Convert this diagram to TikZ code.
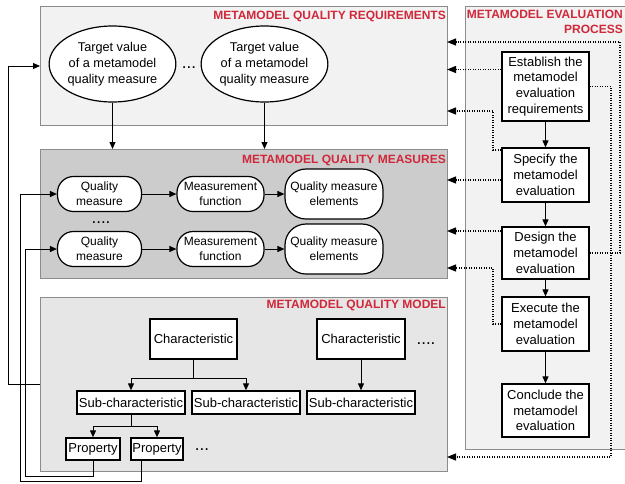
\documentclass[tikz,border=0pt]{standalone}
\usepackage{fontspec}
\setmainfont{Liberation Sans}
\usetikzlibrary{arrows.meta,shapes.geometric}

\definecolor{titlered}{RGB}{208,40,58}
\definecolor{panelline}{RGB}{140,140,140}
\definecolor{reqfill}{RGB}{242,242,242}
\definecolor{measfill}{RGB}{204,204,204}
\definecolor{modfill}{RGB}{230,230,230}
\definecolor{procfill}{RGB}{242,242,242}

\tikzset{
  panel/.style={draw=panelline, line width=0.9pt, anchor=north west, inner sep=0pt, outer sep=0pt},
  ptitle/.style={font=\bfseries\fontsize{12}{14}\selectfont, text=titlered, inner sep=0pt, align=right},
  target/.style={ellipse, draw, line width=1.2pt, fill=white, minimum width=117pt, minimum height=76pt,
    inner sep=0pt, align=center, font=\fontsize{12.7}{16}\selectfont},
  pill/.style={draw, line width=1.2pt, fill=white, rounded corners=16pt, minimum height=35pt,
    inner sep=0pt, align=center, font=\fontsize{12}{15}\selectfont},
  elem/.style={draw, line width=1.2pt, fill=white, rounded corners=21pt, minimum width=98pt,
    minimum height=50pt, inner sep=0pt, align=center, font=\fontsize{12}{15}\selectfont},
  qbox/.style={draw, line width=1.3pt, fill=white, inner sep=0pt, align=center,
    font=\fontsize{13}{15.8}\selectfont},
  procbox/.style={qbox, minimum width=87pt},
  dots/.style={font=\fontsize{17}{17}\selectfont, inner sep=0pt, anchor=base,
    text height=2.5pt, text depth=0pt},
  arr/.style={line width=1pt, -{Triangle[length=7pt,width=6pt]}},
  link/.style={line width=1pt},
  dotarr/.style={line width=1.2pt, dash pattern=on 1.2pt off 1.3pt,
    -{Triangle[length=9pt,width=7pt]}},
}

\begin{document}
\begin{tikzpicture}[x=1pt, y=-1pt]
\useasboundingbox (0,0) rectangle (625,483);

% ---- panels ----
\node[panel, fill=reqfill, minimum width=407pt, minimum height=119pt] (req) at (40,6) {};
\node[panel, fill=measfill, minimum width=407pt, minimum height=129pt] (meas) at (40,149) {};
\node[panel, fill=modfill, minimum width=407pt, minimum height=174pt] (mod) at (40,297) {};
\node[panel, fill=procfill, minimum width=170pt, minimum height=443pt] (proc) at (465,6) {};

\node[ptitle, anchor=east] (treq) at (446,16) {METAMODEL QUALITY REQUIREMENTS};
\node[ptitle, anchor=east] (tmeas) at (446,160) {METAMODEL QUALITY MEASURES};
\node[ptitle, anchor=east] (tmod) at (446,305.5) {METAMODEL QUALITY MODEL};
\node[ptitle, anchor=north east, font=\bfseries\fontsize{12}{15}\selectfont] (tproc) at (623,10)
  {METAMODEL EVALUATION\\PROCESS};

% ---- quality requirements ----
\node[target] (el1) at (112.5,64) {Target value\\of a metamodel\\quality measure};
\node[target] (el2) at (264.5,64) {Target value\\of a metamodel\\quality measure};
\node[dots] (d1) at (189,68) {...};

% ---- quality measures ----
\node[pill, minimum width=84pt] (qm1) at (99.5,194) {Quality\\measure};
\node[pill, minimum width=87pt] (mf1) at (220.5,194) {Measurement\\function};
\node[elem] (qe1) at (334,194) {Quality measure\\elements};
\node[pill, minimum width=84pt] (qm2) at (99.5,249) {Quality\\measure};
\node[pill, minimum width=87pt] (mf2) at (220.5,249) {Measurement\\function};
\node[elem] (qe2) at (334,249) {Quality measure\\elements};
\node[dots] (d2) at (101,223) {....};

\draw[arr] (qm1) -- (mf1);
\draw[arr] (mf1) -- (qe1);
\draw[arr] (qm2) -- (mf2);
\draw[arr] (mf2) -- (qe2);

\draw[arr] (el1.south) -- (el1.south |- meas.north);
\draw[arr] (el2.south) -- (el2.south |- meas.north);

% ---- quality model ----
\node[qbox, minimum width=87pt, minimum height=40pt] (ch1) at (193.5,339) {Characteristic};
\node[qbox, minimum width=88pt, minimum height=40pt] (ch2) at (361,339) {Characteristic};
\node[dots] (d3) at (426,344) {....};
\node[qbox, minimum width=108pt, minimum height=23pt] (sub1) at (131,402.5) {Sub-characteristic};
\node[qbox, minimum width=108pt, minimum height=23pt] (sub2) at (246,402.5) {Sub-characteristic};
\node[qbox, minimum width=108pt, minimum height=23pt] (sub3) at (361,402.5) {Sub-characteristic};
\node[qbox, minimum width=54pt, minimum height=22pt] (pr1) at (93,449) {Property};
\node[qbox, minimum width=52pt, minimum height=22pt] (pr2) at (157,449) {Property};
\node[dots] (d4) at (202,450) {...};

\draw[link] (ch1.south) -- (ch1.south |- 0,378) coordinate (fork1);
\draw[arr] (fork1) -| (sub1.north);
\draw[arr] (fork1) -| (sub2.north);
\draw[arr] (ch2.south) -- (sub3.north);
\draw[link] (sub1.south) -- (sub1.south |- 0,426) coordinate (fork2);
\draw[arr] (fork2) -| (pr1.north);
\draw[arr] (fork2) -| (pr2.north);

% ---- feedback links on the left ----
\draw[arr] (mod.west |- 0,384) -- (8,384) |- (req.west |- 0,66);
\draw[arr] ([xshift=-16pt]pr2.south) |- (20,481.5) |- (qm1.west);
\draw[arr] (pr1.south) |- (25,476) |- (qm2.west);

% ---- evaluation process ----
\node[procbox, minimum height=69pt] (est) at (545.5,86.5) {Establish the\\metamodel\\evaluation\\requirements};
\node[procbox, minimum height=54pt] (spec) at (545.5,175) {Specify the\\metamodel\\evaluation};
\node[procbox, minimum height=52pt] (des) at (545.5,253) {Design the\\metamodel\\evaluation};
\node[procbox, minimum height=54pt] (exe) at (545.5,324) {Execute the\\metamodel\\evaluation};
\node[procbox, minimum height=53pt] (conc) at (545.5,410.5) {Conclude the\\metamodel\\evaluation};

\draw[arr] (est) -- (spec);
\draw[arr] (spec) -- (des);
\draw[arr] (des) -- (exe);
\draw[arr] (exe) -- (conc);

% ---- dotted links from the process to the panels ----
\draw[dotarr] (des.east) -| (620,42) -- (req.east |- 0,42);
\draw[dotarr] ([yshift=17pt]est.west) -- (req.east |- 0,69.5);
\draw[dotarr] ([yshift=25pt]spec.west) -| (493,111) -- (req.east |- 0,111);
\draw[dotarr] ([yshift=-5pt]spec.west) -- (meas.east |- 0,180);
\draw[dotarr] ([yshift=22pt]des.west) -- (meas.east |- 0,231);
\draw[dotarr] (exe.west) -| (493,268) -- (meas.east |- 0,268);
\draw[dotarr] (est.east) -| (611,457) -- (mod.east |- 0,457);

\end{tikzpicture}
\end{document}
